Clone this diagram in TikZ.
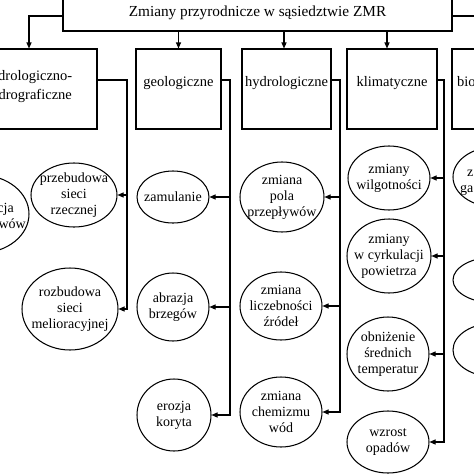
\documentclass[tikz,border=0pt]{standalone}
\usepackage{fontspec}
\setmainfont{Liberation Serif}
\usetikzlibrary{shapes.geometric,arrows.meta,calc}
\begin{document}
\begin{tikzpicture}[x=1pt,y=-1pt,
  ln/.style={line width=1.05pt},
  arr/.style={ln,-{Triangle[length=6pt,width=5pt]}},
  box/.style={draw,ln,rectangle,minimum height=80pt,inner sep=0pt},
  btxt/.style={font=\fontsize{14.5}{19}\selectfont,align=center,inner sep=0pt},
  el/.style={draw,ln,ellipse,inner sep=0pt},
  etxt/.style={font=\fontsize{14}{16}\selectfont,align=center,inner sep=0pt}]
\useasboundingbox (0,0) rectangle (474,474);
\clip (0,0) rectangle (474,474);

% top box
\node[draw,ln,minimum width=389pt,minimum height=37pt,inner sep=0pt,
      font=\fontsize{15.3}{18}\selectfont] (top) at (257.5,12.5) {Zmiany przyrodnicze w sąsiedztwie ZMR};

% level boxes
\node[box,minimum width=136pt] (b1) at (29,89) {};
\node[btxt] (t1) at (28,87) {hydrologiczno-\\hydrograficzne};
\node[box,minimum width=85pt] (b2) at (178.5,89) {};
\node[btxt] (t2) at (178.5,83) {geologiczne};
\node[box,minimum width=89pt] (b3) at (286.5,89) {};
\node[btxt] (t3) at (286.5,83) {hydrologiczne};
\node[box,minimum width=90pt] (b4) at (392,89) {};
\node[btxt] (t4) at (392,83) {klimatyczne};
\node[box,minimum width=88pt] (b5) at (496,89) {};
\node[btxt,anchor=west] (t5) at (457,83) {biologiczne};

% top connectors
\draw[arr] (top.west |- 0,16) -| (b1.north);
\coordinate (rt) at (480,16);
\draw[ln] (top.east |- rt) -- (rt);
\draw[arr] (top.south -| b2.north) -- (b2.north);
\draw[arr] ($(top.south -| b3.north)+(-2.5,0)$) -- ($(b3.north)+(-2.5,0)$);
\draw[arr] ($(top.south -| b4.north)+(-5,0)$) -- ($(b4.north)+(-5,0)$);

% left partial ellipse
\node[el,minimum width=98pt,minimum height=78pt] (e01) at (-20,214) {};
\node[etxt,anchor=base east] (f1) at (14,212) {cja};
\node[etxt,anchor=base east] (f2) at (26,228) {wów};

% column 1
\node[el,minimum width=86pt,minimum height=64pt,
  label={[etxt]center:{przebudowa\\sieci\\rzecznej}}] (e11) at (74,195) {};
\node[el,minimum width=96pt,minimum height=82pt,
  label={[etxt]center:{rozbudowa\\sieci\\melioracyjnej}}] (e12) at (70,309) {};
\coordinate (c1) at (127,80);
\draw[arr] (b1.east |- c1) -- (c1) |- (e12.east);
\draw[arr] (c1 |- e11.east) -- (e11.east);

% column 2
\node[el,minimum width=72pt,minimum height=52pt,
  label={[etxt]center:{zamulanie}}] (e21) at (173,197) {};
\node[el,minimum width=72pt,minimum height=68pt,
  label={[etxt]center:{abrazja\\brzegów}}] (e22) at (173,307) {};
\node[el,minimum width=74pt,minimum height=72pt,
  label={[etxt]center:{erozja\\koryta}}] (e23) at (174,415) {};
\coordinate (c2) at (230,80);
\draw[arr] (b2.east |- c2) -- (c2) |- (e23.east);
\draw[arr] (c2 |- e21.east) -- (e21.east);
\draw[arr] (c2 |- e22.east) -- (e22.east);

% column 3
\node[el,minimum width=84pt,minimum height=70pt,
  label={[etxt]center:{zmiana\\pola\\przepływów}}] (e31) at (282,197) {};
\node[el,minimum width=82pt,minimum height=68pt,
  label={[etxt]center:{zmiana\\liczebności\\źródeł}}] (e32) at (281,306) {};
\node[el,minimum width=82pt,minimum height=70pt,
  label={[etxt]center:{zmiana\\chemizmu\\wód}}] (e33) at (281,412) {};
\coordinate (c3) at (340,80);
\draw[arr] (b3.east |- c3) -- (c3) |- (e33.east);
\draw[arr] (c3 |- e31.east) -- (e31.east);
\draw[arr] (c3 |- e32.east) -- (e32.east);

% column 4
\node[el,minimum width=82pt,minimum height=64pt,
  label={[etxt]center:{zmiany\\wilgotności}}] (e41) at (389,178) {};
\node[el,minimum width=84pt,minimum height=74pt,
  label={[etxt]center:{zmiany\\w cyrkulacji\\powietrza}}] (e42) at (389,256) {};
\node[el,minimum width=82pt,minimum height=74pt,
  label={[etxt]center:{obniżenie\\średnich\\temperatur}}] (e43) at (388,354) {};
\node[el,minimum width=82pt,minimum height=62pt,
  label={[etxt]center:{wzrost\\opadów}}] (e44) at (388,442) {};
\coordinate (c4) at (444,80);
\draw[arr] (b4.east |- c4) -- (c4) |- (e44.east);
\draw[arr] (c4 |- e41.east) -- (e41.east);
\draw[arr] (c4 |- e42.east) -- (e42.east);
\draw[arr] (c4 |- e43.east) -- (e43.east);

% column 5 (cut off)
\node[el,minimum width=84pt,minimum height=60pt] (e51) at (495,177) {};
\node[etxt,anchor=base west] (f3) at (467,176) {z};
\node[etxt,anchor=base west] (f4) at (460,192) {ga};
\node[el,minimum width=84pt,minimum height=46pt] (e52) at (495,280) {};
\node[el,minimum width=84pt,minimum height=54pt] (e53) at (495,350) {};
\end{tikzpicture}
\end{document}
